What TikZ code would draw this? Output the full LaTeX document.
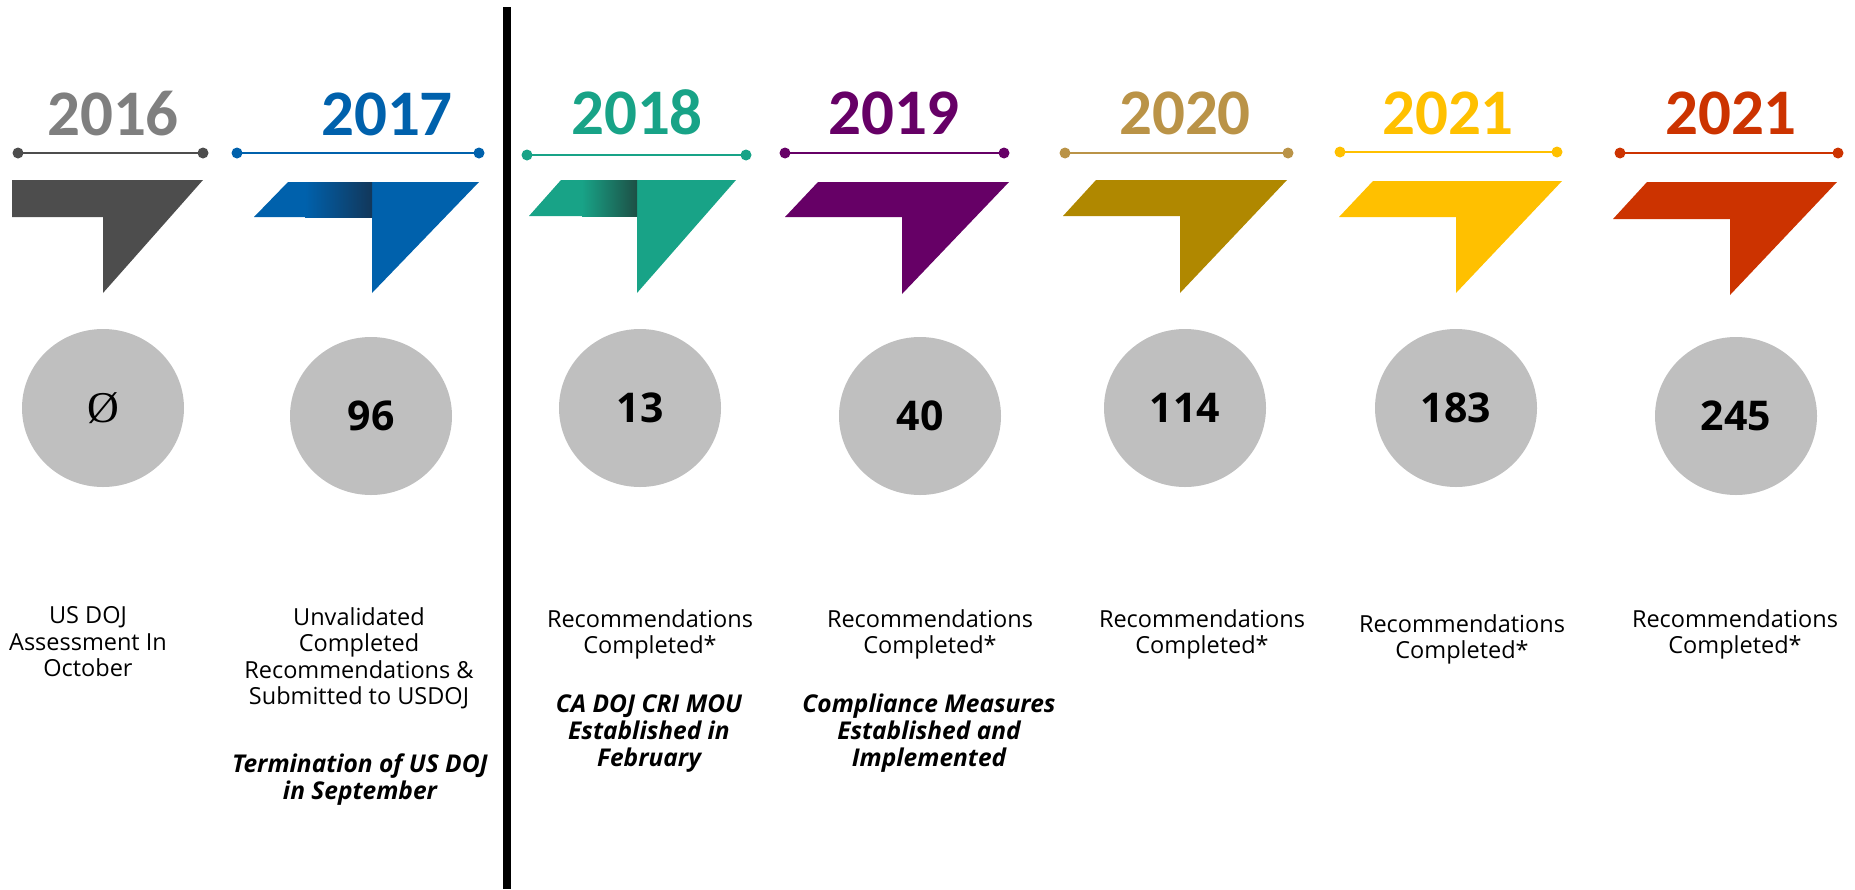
\documentclass[tikz,border=0pt]{standalone}
\usepackage{fontspec}
\setmainfont{Open Sans}
\newfontfamily\yearfont{Carlito}
\newfontfamily\serifnum{Liberation Serif}
\usetikzlibrary{shapes.geometric}
\definecolor{cgray}{HTML}{7F7F7F}
\definecolor{cdark}{HTML}{4D4D4D}
\definecolor{cblue}{HTML}{0061AC}
\definecolor{cnavy}{HTML}{12375A}
\definecolor{cteal}{HTML}{18A387}
\definecolor{cdteal}{HTML}{1D4F45}
\definecolor{cpurple}{HTML}{660066}
\definecolor{cgoldtxt}{HTML}{BA9347}
\definecolor{cgold}{HTML}{B08800}
\definecolor{cyellow}{HTML}{FFC000}
\definecolor{cred}{HTML}{CC3300}
\definecolor{ccircle}{HTML}{BFBFBF}
\tikzset{
  year/.style={font=\yearfont\bfseries\fontsize{65}{65}\selectfont, anchor=base, inner sep=0},
  count/.style={ellipse, fill=ccircle, minimum width=162, minimum height=158, inner sep=0,
    text height=29, text depth=0, font=\bfseries\fontsize{41}{41}\selectfont},
  desc/.style={align=center, anchor=base, inner sep=0, font=\fontsize{23.5}{26.5}\selectfont},
  note/.style={align=center, anchor=base, inner sep=0, font=\bfseries\itshape\fontsize{24.5}{27}\selectfont},
  tline/.style={line width=2.5}
}
\begin{document}
\begin{tikzpicture}[x=1pt,y=-1pt]
\useasboundingbox (0,0) rectangle (1855,889);
% timelines with end dots
\foreach \i/\a/\b/\y/\c in {1/18/203/153/cdark, 2/237/479/153/cblue, 3/527/746/155/cteal,
  4/785/1004/153/cpurple, 5/1065/1288/153/cgoldtxt, 6/1340/1557/152/cyellow, 7/1620/1838/153/cred}{
  \coordinate (la\i) at (\a,\y);
  \coordinate (lb\i) at (\b,\y);
  \draw[tline,\c] (la\i) -- (lb\i);
  \fill[\c] (la\i) circle (5.5) (lb\i) circle (5.5);
}
% arrow shapes
\foreach \tl/\tr/\bl/\v/\top/\bar/\bot/\c in {12/203/12/103/180/217/293/cdark,
  288/479/254/372/182/217/293/cblue, 561/736/529/637/180/216/293/cteal,
  818/1009/785/902/182/217/294/cpurple, 1096/1287/1063/1180/180/216/293/cgold,
  1373/1562/1339/1456/181/217/293/cyellow, 1647/1837/1613/1730/182/219/295/cred}{
  \fill[\c] (\tl,\top) -- (\tr,\top) -- (\v,\bot) -- (\v,\bar) -- (\bl,\bar) -- cycle;
}
\shade[left color=cblue, right color=cnavy] (305,182) rectangle (372,217);
\shade[left color=cteal, right color=cdteal] (582,180) rectangle (637,216);
% separator
\coordinate (vt) at (506.5,7);
\coordinate (vb) at (506.5,889);
\draw[line width=8] (vt) -- (vb);
% years
\node[year, text=cgray] (y1) at (113,135) {2016};
\node[year, text=cblue] (y2) at (387,135) {2017};
\node[year, text=cteal] (y3) at (637,134) {2018};
\node[year, text=cpurple] (y4) at (894,134) {2019};
\node[year, text=cgoldtxt] (y5) at (1185,134) {2020};
\node[year, text=cyellow] (y6) at (1448,134) {2021};
\node[year, text=cred] (y7) at (1731,134) {2021};
% counts
\node[count] (c1) at (103,408) {\serifnum\mdseries\fontsize{44}{44}\selectfont Ø};
\node[count] (c2) at (371,416) {96};
\node[count] (c3) at (640,408) {13};
\node[count] (c4) at (920,416) {40};
\node[count] (c5) at (1185,408) {114};
\node[count] (c6) at (1456,408) {183};
\node[count] (c7) at (1736,416) {245};
% descriptions (anchor = baseline of last line)
\node[desc] (d1) at (88,676.5) {US DOJ\\Assessment In\\October};
\node[desc] (d2) at (359,704.5) {Unvalidated\\Completed\\Recommendations \&\\Submitted to USDOJ};
\node[note] (n2) at (360,799.5) {Termination of US DOJ\\in September};
\node[desc] (d3) at (650,653.5) {Recommendations\\Completed*};
\node[note] (n3) at (649,766.5) {CA DOJ CRI MOU\\Established in\\February};
\node[desc] (d4) at (930,653.5) {Recommendations\\Completed*};
\node[note] (n4) at (929,766.5) {Compliance Measures\\Established and\\Implemented};
\node[desc] (d5) at (1202,653.5) {Recommendations\\Completed*};
\node[desc] (d6) at (1462,658.5) {Recommendations\\Completed*};
\node[desc] (d7) at (1735,653.5) {Recommendations\\Completed*};
\end{tikzpicture}
\end{document}
